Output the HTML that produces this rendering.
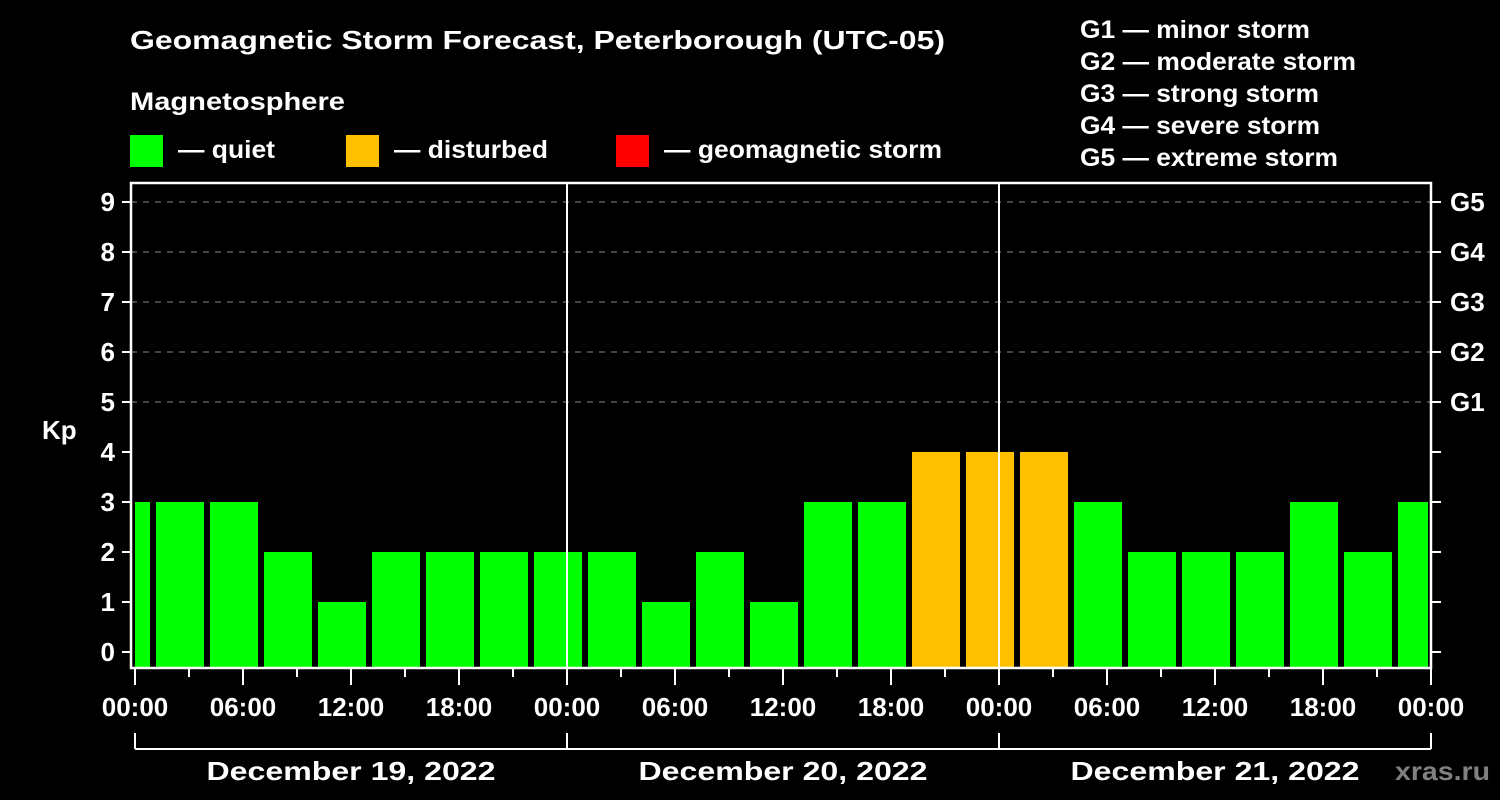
<!DOCTYPE html>
<html><head><meta charset="utf-8"><style>
html,body{margin:0;padding:0;background:#000;}
svg{display:block;font-family:"Liberation Sans",Arial,sans-serif;font-weight:bold;}
</style></head><body>
<svg id="chart" width="1500" height="800" viewBox="0 0 1500 800" xmlns="http://www.w3.org/2000/svg">
<rect width="1500" height="800" fill="#000"/>
<text x="130" y="49" fill="#fff" font-size="26" textLength="815" lengthAdjust="spacingAndGlyphs">Geomagnetic Storm Forecast, Peterborough (UTC-05)</text>
<text x="130" y="110" fill="#fff" font-size="25" textLength="215" lengthAdjust="spacingAndGlyphs">Magnetosphere</text>
<g>
<rect x="130" y="135" width="33" height="32" fill="#00ff00"/>
<text x="178" y="158" fill="#fff" font-size="25" textLength="97" lengthAdjust="spacingAndGlyphs">— quiet</text></g>
<g>
<rect x="346" y="135" width="33" height="32" fill="#ffc000"/>
<text x="394" y="158" fill="#fff" font-size="25" textLength="154" lengthAdjust="spacingAndGlyphs">— disturbed</text></g>
<g>
<rect x="616" y="135" width="33" height="32" fill="#ff0000"/>
<text x="664" y="158" fill="#fff" font-size="25" textLength="278" lengthAdjust="spacingAndGlyphs">— geomagnetic storm</text></g>
<g fill="#fff" font-size="25">
<text x="1080" y="38" textLength="230" lengthAdjust="spacingAndGlyphs">G1 — minor storm</text>
<text x="1080" y="70" textLength="276" lengthAdjust="spacingAndGlyphs">G2 — moderate storm</text>
<text x="1080" y="102" textLength="239" lengthAdjust="spacingAndGlyphs">G3 — strong storm</text>
<text x="1080" y="134" textLength="240" lengthAdjust="spacingAndGlyphs">G4 — severe storm</text>
<text x="1080" y="166" textLength="258" lengthAdjust="spacingAndGlyphs">G5 — extreme storm</text>
</g>
<text x="42" y="439" fill="#fff" font-size="26">Kp</text>
<g id="grid"></g><g id="bars"></g><g id="axes"></g>
<text x="1395" y="780" fill="#808080" font-size="26" textLength="95" lengthAdjust="spacingAndGlyphs">xras.ru</text>
</svg>
<script>
const kpValues = [3,3,3,2,1,2,2,2,2,2,1,2,1,3,3,4,4,4,3,2,2,2,3,2,3];
const yTicks = [0,1,2,3,4,5,6,7,8,9];
const gLabels = ["G1","G2","G3","G4","G5"];
const xTickLabels = ["00:00","06:00","12:00","18:00","00:00","06:00","12:00","18:00","00:00","06:00","12:00","18:00","00:00"];
const dayLabels = ["December 19, 2022","December 20, 2022","December 21, 2022"];
const firstBinStartHour = -2;
const binHours = 3;

const NS="http://www.w3.org/2000/svg";
const L=131,R=1431,T=183,B=668,X0=135,PXH=18;
const xs=h=>X0+h*PXH, ys=k=>652-50*k;
function mk(tag,attrs,parent){const e=document.createElementNS(NS,tag);for(const k in attrs)e.setAttribute(k,attrs[k]);parent.appendChild(e);return e;}
const grid=document.getElementById('grid'),bars=document.getElementById('bars'),axes=document.getElementById('axes');
// gridlines
yTicks.forEach(k=>{if(k>=5){const l=mk('line',{x1:L,x2:R,y1:ys(k),y2:ys(k),stroke:'#888','stroke-dasharray':'6,6','stroke-width':1},grid);

}});
// bars
kpValues.forEach((v,i)=>{
 const h0=firstBinStartHour+i*binHours,h1=h0+binHours;
 let x0=xs(h0)+3,x1=xs(h1)-3;
 x0=Math.max(x0,X0);x1=Math.min(x1,R-3);
 const c=v>=5?'#ff0000':(v>=4?'#ffc000':'#00ff00');
 const r=mk('rect',{x:x0,y:ys(v),width:x1-x0,height:B-1-ys(v),fill:c},bars);
 
 
});
// day separators
[24,48].forEach(h=>{const l=mk('line',{x1:xs(h),x2:xs(h),y1:T,y2:B,stroke:'#fff','stroke-width':2},axes);

});
// frame
const f=mk('rect',{x:L,y:T,width:R-L,height:B-T,fill:'none',stroke:'#fff','stroke-width':2.5},axes);


// y ticks & labels
yTicks.forEach(k=>{
 mk('line',{x1:L-9,x2:L,y1:ys(k),y2:ys(k),stroke:'#fff','stroke-width':2},axes);
 mk('line',{x1:R,x2:R+10,y1:ys(k),y2:ys(k),stroke:'#fff','stroke-width':2},axes);
 const t=mk('text',{x:115,y:ys(k)+9,fill:'#fff','font-size':26,'text-anchor':'end'},axes);t.textContent=k;
 
 
 if(k>=5){const g=mk('text',{x:1450,y:ys(k)+9,fill:'#fff','font-size':26},axes);g.textContent=gLabels[k-5];
 
 }
});
// x ticks
for(let h=0;h<=72;h+=3){const major=h%6===0;mk('line',{x1:xs(h),x2:xs(h),y1:B,y2:B+(major?17:9),stroke:'#fff','stroke-width':2},axes);}
xTickLabels.forEach((s,i)=>{const t=mk('text',{x:xs(i*6),y:716,fill:'#fff','font-size':26,'text-anchor':'middle'},axes);t.textContent=s;
 
 });
// day bracket
mk('line',{x1:xs(0),x2:xs(72),y1:749,y2:749,stroke:'#fff','stroke-width':2},axes);
[0,24,48,72].forEach(h=>mk('line',{x1:xs(h),x2:xs(h),y1:733,y2:749,stroke:'#fff','stroke-width':2},axes));
dayLabels.forEach((s,i)=>{const t=mk('text',{x:xs(i*24+12),y:780,fill:'#fff','font-size':26,'text-anchor':'middle',textLength:289,lengthAdjust:'spacingAndGlyphs'},axes);t.textContent=s;
 
 });
</script>
</body></html>
